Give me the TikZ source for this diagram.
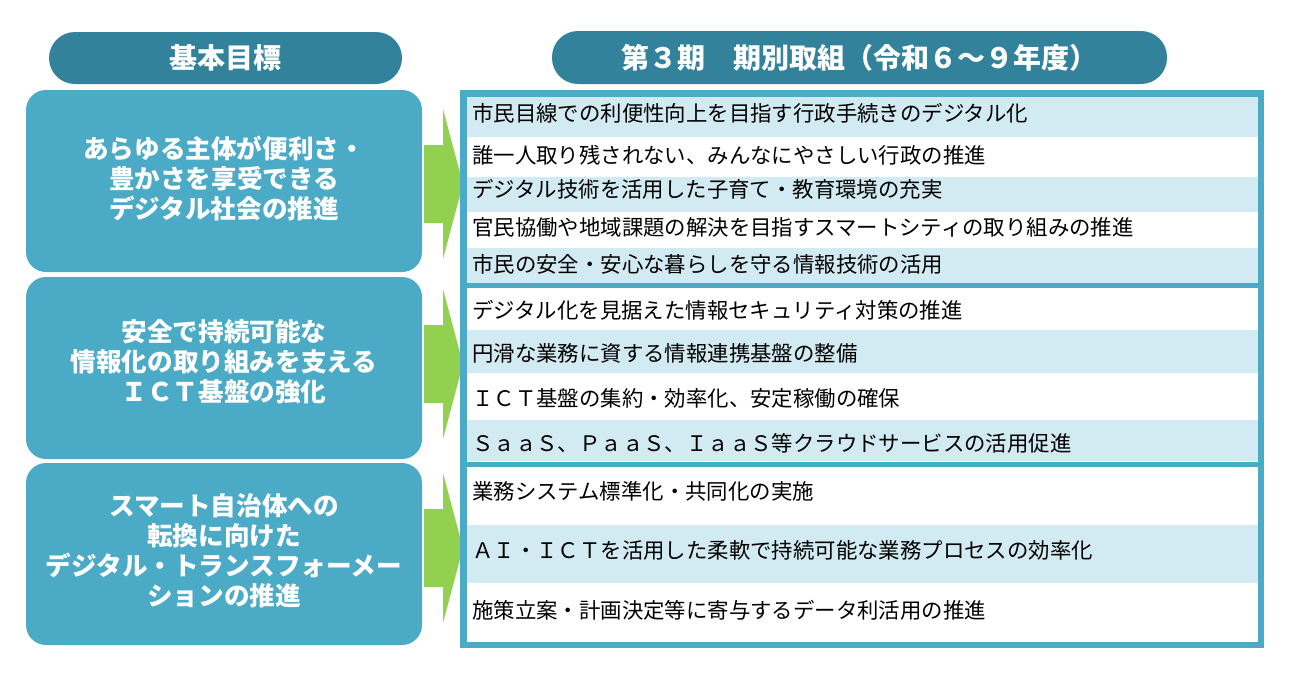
\documentclass[tikz,border=0pt]{standalone}
\usepackage{fontspec}
\newfontfamily\jpfont{Noto Sans CJK JP}
\usepackage{xcolor}
\usetikzlibrary{calc,positioning}
\definecolor{headteal}{HTML}{31829A}
\definecolor{goalblue}{HTML}{4BABC6}
\definecolor{rowblue}{HTML}{D2EAF2}
\definecolor{arrowgreen}{HTML}{92D050}
\tikzset{
	headbox/.style={fill=headteal, rounded corners=26pt, text=white, inner sep=0pt,
		font=\jpfont\bfseries\fontsize{28}{32}\selectfont},
	goalbox/.style={fill=goalblue, rounded corners=20pt, inner sep=0pt,
		minimum width=396pt, minimum height=182pt},
	goaltext/.style={text=white, align=center, inner sep=0pt,
		font=\jpfont\bfseries\fontsize{25.6}{30}\selectfont},
	itemtext/.style={anchor=west, inner sep=0pt, font=\jpfont\fontsize{21.4}{25}\selectfont},
}

\begin{document}
\begin{tikzpicture}[x=1pt,y=-1pt]
			\useasboundingbox (0,0) rectangle (1298,683);
			% headers
			\node[headbox, minimum width=353pt, minimum height=52pt] (hgoal) at (225.5,58) {基本目標};
			\node[headbox, minimum width=615pt, minimum height=53pt] (hplan) at (859.5,57.5) {第３期　期別取組（令和６～９年度）};
			
			% goals
			\node[goalbox] (goal1) at (224,181) {};
			\node[goalbox] (goal2) at (224,368) {};
			\node[goalbox] (goal3) at (224,554) {};
			\node[goaltext] (goal1t) at (224,178) {あらゆる主体が便利さ・\\豊かさを享受できる\\デジタル社会の推進};
			\node[goaltext] (goal2t) at (224,362) {安全で持続可能な\\情報化の取り組みを支える\\ＩＣＴ基盤の強化};
			\node[goaltext] (goal3t) at (224,551) {スマート自治体への\\転換に向けた\\デジタル・トランスフォーメー\\ションの推進};
			
			% green arrows
			\foreach \c in {184,364,548}
			\fill[arrowgreen] (424,\c-39) -- (443,\c-39) -- (443,\c-75) -- (463,\c)
				-- (443,\c+75) -- (443,\c+39) -- (424,\c+39) -- cycle;
			
			% shaded rows
			\foreach \a/\b in {97/137,177/212,248/283,330/373,420/461,525/583}
			\fill[rowblue] (466,\a) rectangle (1258,\b);
			
			\node[draw=goalblue, line width=6.5pt, minimum width=797.5pt, minimum height=551.5pt] (plan) at (862,369) {};
			\draw[goalblue, line width=5pt] (plan.west |- 0,285.5) -- (plan.east |- 0,285.5);
			\draw[goalblue, line width=5pt] (plan.west |- 0,464) -- (plan.east |- 0,464);
			
			\foreach \y/\t [count=\n] in {113/市民目線での利便性向上を目指す行政手続きのデジタル化,
				155/誰一人取り残されない、みんなにやさしい行政の推進,
				189/デジタル技術を活用した子育て・教育環境の充実,
				227/官民協働や地域課題の解決を目指すスマートシティの取り組みの推進,
				264/市民の安全・安心な暮らしを守る情報技術の活用,
				310/デジタル化を見据えた情報セキュリティ対策の推進,
				353/円滑な業務に資する情報連携基盤の整備,
				398/ＩＣＴ基盤の集約・効率化、安定稼働の確保,
				443/ＳａａＳ、ＰａａＳ、ＩａａＳ等クラウドサービスの活用促進,
				491/業務システム標準化・共同化の実施,
				550/ＡＩ・ＩＣＴを活用した柔軟で持続可能な業務プロセスの効率化,
				610/施策立案・計画決定等に寄与するデータ利活用の推進}
			\node[itemtext] (item\n) at (472,\y) {\t};
		\end{tikzpicture}
\end{document}
